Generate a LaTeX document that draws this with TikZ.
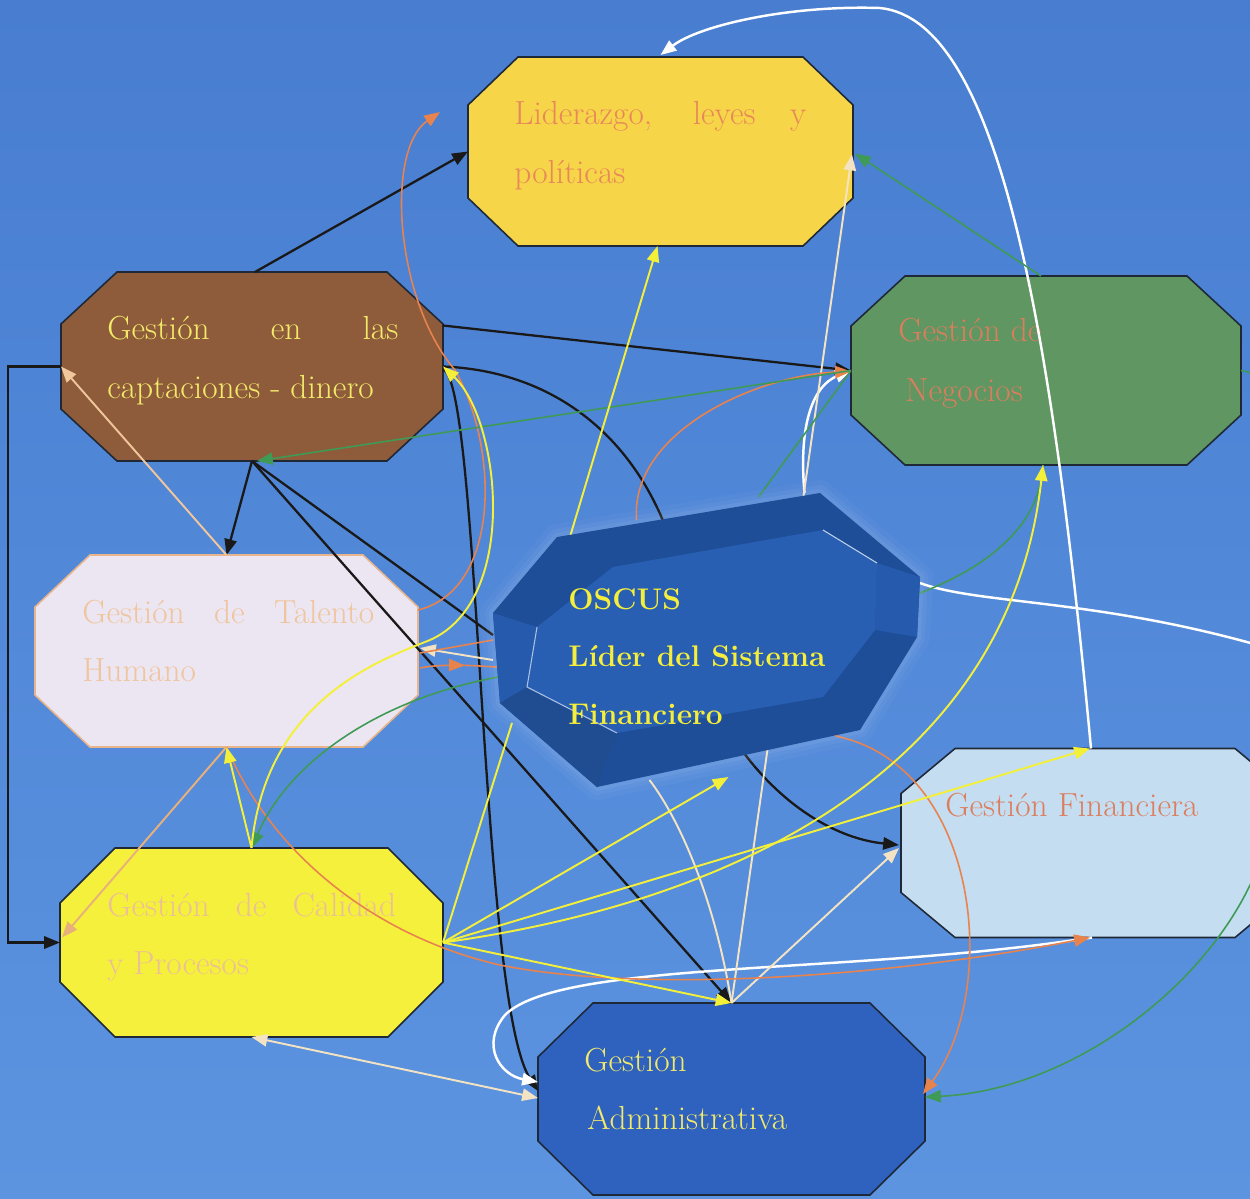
\documentclass[tikz,border=0pt]{standalone}
\usetikzlibrary{arrows.meta,calc,decorations.markings}
\definecolor{bgtop}{RGB}{72,125,208}
\definecolor{bgbot}{RGB}{92,148,224}
\definecolor{edge}{RGB}{30,40,55}
\definecolor{lidfill}{RGB}{246,214,72}
\definecolor{lidtxt}{RGB}{232,135,90}
\definecolor{capfill}{RGB}{142,92,58}
\definecolor{yeltxt}{RGB}{243,234,106}
\definecolor{talfill}{RGB}{236,230,242}
\definecolor{taledge}{RGB}{232,180,140}
\definecolor{peachtxt}{RGB}{240,196,156}
\definecolor{calfill}{RGB}{245,240,60}
\definecolor{caltxt}{RGB}{236,192,150}
\definecolor{negfill}{RGB}{95,150,98}
\definecolor{salmon}{RGB}{220,126,94}
\definecolor{finfill}{RGB}{196,221,240}
\definecolor{admfill}{RGB}{47,98,190}
\definecolor{osctxt}{RGB}{245,238,58}
\definecolor{oscdark}{RGB}{30,78,152}
\definecolor{oscside}{RGB}{38,90,172}
\definecolor{oscin}{RGB}{44,99,186}
\definecolor{cream}{RGB}{243,227,195}
\definecolor{peach}{RGB}{240,198,156}
\definecolor{peach2}{RGB}{232,176,122}
\definecolor{orangeln}{RGB}{232,131,78}
\definecolor{greenln}{RGB}{63,154,85}
\definecolor{yellowln}{RGB}{244,240,58}
\pgfdeclarelayer{bg}
\pgfdeclarelayer{boxes}
\pgfdeclarelayer{front}
\pgfsetlayers{bg,boxes,main,front}
\newcommand\octo[6]{%
\begin{pgfonlayer}{boxes}
\filldraw[fill=#2,draw=#3,line width=#6]
 ($(#1.north west)+(#4,0)$) -- ($(#1.north east)+(-#4,0)$) -- ($(#1.north east)+(0,#5)$) --
 ($(#1.south east)+(0,-#5)$) -- ($(#1.south east)+(-#4,0)$) -- ($(#1.south west)+(#4,0)$) --
 ($(#1.south west)+(0,-#5)$) -- ($(#1.north west)+(0,#5)$) -- cycle;
\end{pgfonlayer}}
\begin{document}
\begin{tikzpicture}[x=0.02cm,y=-0.02cm,
  boxn/.style={rectangle,draw=none,inner sep=0pt,outer sep=0pt},
  txt/.style={anchor=base west,inner sep=0pt,font=\fontsize{19}{21}\selectfont},
  otxt/.style={anchor=base west,inner sep=0pt,text=osctxt,font=\fontsize{17}{20}\selectfont\bfseries},
  arr/.style={-{Triangle[length=9pt,width=7pt]}},
  blk/.style={draw=black!90,line width=1.3pt},
  wht/.style={draw=white,line width=1.4pt},
  crm/.style={draw=cream,line width=1.1pt},
  org/.style={draw=orangeln,line width=0.9pt},
  grn/.style={draw=greenln,line width=0.9pt},
  ylw/.style={draw=yellowln,line width=1.1pt},
  midarr/.style={postaction={decorate,decoration={markings,mark=at position 0.9cm with {\arrow{Triangle[length=9pt,width=7pt]}}}}}]
\useasboundingbox (0,0) rectangle (1250,1198);
\begin{pgfonlayer}{bg}
\shade[top color=bgtop,bottom color=bgbot] (0,0) rectangle (1250,1198);
\end{pgfonlayer}
\clip (0,0) rectangle (1250,1198);

% boxes
\node[boxn,minimum width=385*0.02cm,minimum height=189*0.02cm] (lid) at (660.5,151.5) {};
\node[boxn,minimum width=382*0.02cm,minimum height=189*0.02cm] (cap) at (252,366.5) {};
\node[boxn,minimum width=383*0.02cm,minimum height=192*0.02cm] (tal) at (226.5,651) {};
\node[boxn,minimum width=383*0.02cm,minimum height=189*0.02cm] (cal) at (251.5,942.5) {};
\node[boxn,minimum width=390*0.02cm,minimum height=189*0.02cm] (neg) at (1046,370.5) {};
\node[boxn,minimum width=388*0.02cm,minimum height=189*0.02cm] (fin) at (1095,843) {};
\node[boxn,minimum width=387*0.02cm,minimum height=192*0.02cm] (adm) at (731.5,1099) {};
\node[boxn,minimum width=427*0.02cm,minimum height=294*0.02cm] (oscus) at (706.5,640) {};

\octo{lid}{lidfill}{edge}{50}{48}{0.9pt}
\octo{cap}{capfill}{edge}{56}{52}{0.9pt}
\octo{tal}{talfill}{taledge}{55}{52}{0.9pt}
\octo{cal}{calfill}{edge}{55}{55}{0.9pt}
\octo{neg}{negfill}{edge}{54}{50}{0.9pt}
\octo{fin}{finfill}{edge}{54}{45}{0.9pt}
\octo{adm}{admfill}{edge}{55}{54}{0.9pt}

% texts
\node[txt,text=lidtxt] (lidA) at (514,124) {\makebox[5.84cm][s]{Liderazgo, leyes y}};
\node[txt,text=lidtxt] (lidB) at (514,183) {políticas};
\node[txt,text=yeltxt] (capA) at (107,339) {\makebox[5.82cm][s]{Gestión en las}};
\node[txt,text=yeltxt] (capB) at (107,398) {captaciones - dinero};
\node[txt,text=peachtxt] (talA) at (82,623) {\makebox[5.84cm][s]{Gestión de Talento}};
\node[txt,text=peachtxt] (talB) at (82,681) {Humano};
\node[txt,text=caltxt] (calA) at (107,916) {\makebox[5.78cm][s]{Gestión de Calidad}};
\node[txt,text=caltxt] (calB) at (107,974) {y Procesos};
\node[txt,text=salmon] (negA) at (898,341) {Gestión de};
\node[txt,text=salmon] (negB) at (905,401) {Negocios};
\node[txt,text=salmon] (finA) at (945,816) {Gestión Financiera};
\node[txt,text=yeltxt] (admA) at (584,1071) {Gestión};
\node[txt,text=yeltxt] (admB) at (587,1129) {Administrativa};

\coordinate (ofree) at (440,112);
\coordinate (offR) at (1275,650);

% black connectors
\draw[blk,arr] ($(cap.north)+(3,0)$) -- (lid.west);
\draw[blk,arr] ($(cap.east)+(0,-41)$) -- (neg.west);
\draw[blk,arr] (cap.south) -- (tal.north);
\draw[blk,arr] (cap.west) -- ++(-53,0) |- (cal.west);
\draw[blk,arr] (cap.south) -- (adm.north);
\draw[blk] (cap.south) -- ($(oscus.west)+(0,-5)$);
\draw[blk,arr] (cap.east) .. controls (580,372) and (665,470) .. (685,600) .. controls (700,740) and (800,835) .. ($(fin.west)+(-2,2)$);
\draw[blk,arr] ($(cap.east)+(0,3)$) .. controls (480,380) and (480,1000) .. ($(adm.west)+(0,-8)$);

% white connectors
\draw[wht,arr] ($(fin.north west)+(190,0)$) .. controls (1052,330) and (1000,20) .. (880,8) .. controls (790,5) and (700,25) .. ($(lid.north)+(0,-2)$);
\draw[wht,arr] ($(fin.south west)+(191,0)$) .. controls (850,975) and (560,960) .. (505,1015) .. controls (480,1045) and (500,1075) .. ($(adm.west)+(0,-17)$);
\draw[wht] ($(oscus.east)+(0,-57)$) .. controls (980,605) and (1100,598) .. (offR);
\draw[wht,arr] ($(oscus.north)+(98,0)$) .. controls (798,420) and (815,385) .. (neg.west);

% cream / peach connectors
\draw[crm,arr] (adm.north) -- ($(lid.east)+(-1,3)$);
\draw[crm,arr] (adm.north) -- ($(fin.west)+(-2,5)$);
\draw[crm] (adm.north) .. controls (715,900) and (680,820) .. ($(oscus.south)+(-57,-7)$);
\draw[crm,{Triangle[length=9pt,width=7pt]}-{Triangle[length=9pt,width=7pt]}] (cal.south) -- ($(adm.west)+(0,-1)$);
\draw[draw=peach,line width=1.1pt,arr] (tal.north) -- (cap.west);
\draw[draw=peach2,line width=1.1pt,arr] (tal.south) -- ($(cal.west)+(2,-5)$);
\draw[crm,arr] ($(oscus.west)+(0,20)$) -- ($(tal.east)+(2,-3)$);

% orange connectors
\draw[org,arr] ($(tal.north east)+(0,55)$) .. controls (500,590) and (500,450) .. (455,370) .. controls (395,300) and (385,150) .. (ofree);
\draw[org,arr] ($(oscus.north)+(-70,27)$) .. controls (630,430) and (760,375) .. ($(neg.west)+(0,1)$);
\draw[org] (oscus.west) -- ($(tal.east)+(2,2)$);
\draw[org,arr,midarr] ($(tal.east)+(2,17)$) .. controls (480,655) and (700,690) .. (840,737) .. controls (980,770) and (1000,990) .. ($(adm.east)+(-2,-5)$);
\draw[org,arr] (tal.south) .. controls (270,850) and (370,935) .. (500,965) .. controls (650,995) and (900,975) .. ($(fin.south west)+(189,0)$);

% green connectors
\draw[grn,arr] (neg.west) -- ($(cap.south)+(5,0)$);
\draw[grn,arr] ($(neg.north)+(-5,0)$) -- ($(lid.east)+(2,2)$);
\draw[grn,arr] (neg.east) .. controls (1330,380) and (1320,760) .. (1250,885) .. controls (1200,990) and (1070,1090) .. ($(adm.east)+(0,-2)$);
\draw[grn,arr] ($(neg.south)+(-3,0)$) .. controls (1040,530) and (980,570) .. ($(oscus.east)+(0,-47)$) -- ($(oscus.west)+(0,38)$) .. controls (380,700) and (290,760) .. (cal.north);
\draw[grn] ($(oscus.north)+(52,4)$) -- (neg.west);

% yellow connectors
\draw[ylw,arr] (cal.north) .. controls (265,700) and (380,660) .. (430,640) .. controls (520,600) and (500,420) .. (cap.east);
\draw[ylw,arr] ($(oscus.north)+(-136,42)$) -- ($(lid.south)+(-3,0)$);
\draw[ylw] (cal.east) -- ($(oscus.west)+(19,83)$);
\draw[ylw,arr] (cal.east) -- ($(oscus.south)+(22,-10)$);
\draw[ylw,arr] (cal.east) -- ($(fin.north west)+(189,0)$);
\draw[ylw,arr] (cal.east) .. controls (750,900) and (1010,760) .. ($(neg.south)+(-3,0)$);
\draw[ylw,arr] (cal.east) -- (adm.north);
\draw[ylw,arr] (cal.north) -- (tal.south);

% OSCUS 3D octagon
\begin{pgfonlayer}{front}
\foreach \w/\o in {26/0.03,16/0.04,8/0.05}{
  \draw[white,opacity=\o,line width=\w*0.02cm,line join=round]
   (557,537) -- (820,493) -- (920,577) -- (917,637) -- (860,730) -- (597,787) -- (500,703) -- (493,613) -- cycle;}
\fill[oscdark] (557,537) -- (820,493) -- (920,577) -- (917,637) -- (860,730) -- (597,787) -- (500,703) -- (493,613) -- cycle;
\fill[oscside] (493,613) -- (500,703) -- (527,687) -- (537,627) -- cycle;
\fill[oscside!85!black] (500,703) -- (597,787) -- (617,733) -- (527,687) -- cycle;
\fill[oscside] (920,577) -- (917,637) -- (875,630) -- (877,563) -- cycle;
\fill[oscin,opacity=0.82] (537,627) -- (613,567) -- (823,530) -- (877,563) -- (875,630) -- (823,697) -- (617,733) -- (527,687) -- cycle;
\draw[white!70!oscin,line width=0.6pt] (823,530) -- (877,563);
\draw[white!60!oscin,line width=0.6pt] (537,627) -- (527,687) -- (617,733);
\node[otxt] (osc1) at (568,609) {OSCUS};
\node[otxt] (osc2) at (568,666) {Líder del Sistema};
\node[otxt] (osc3) at (568,724) {Financiero};
\end{pgfonlayer}
\end{tikzpicture}
\end{document}
